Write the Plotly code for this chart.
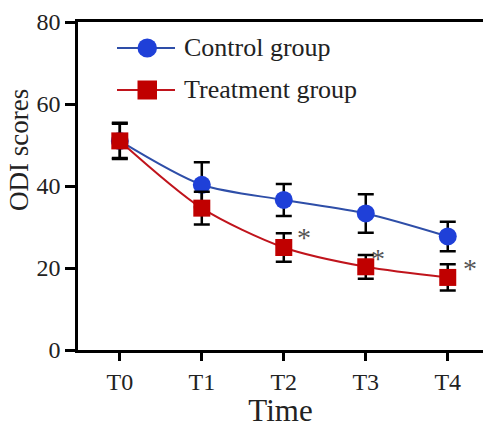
import plotly.graph_objects as go

time_labels = ["T0", "T1", "T2", "T3", "T4"]
control_mean = [51.0, 40.3, 36.6, 33.3, 27.7]
control_err = [4.4, 5.5, 3.9, 4.7, 3.6]
treat_mean = [51.0, 34.6, 25.0, 20.3, 17.7]
treat_err = [4.2, 4.0, 3.5, 2.9, 3.2]
sig_points = [2, 3, 4]  # indices with asterisk
sig_shift = [20, 12, 22]
series_names = ["Control group", "Treatment group"]

x = list(range(len(time_labels)))
FONT = "Liberation Serif, Times New Roman, serif"
BLUE_M, BLUE_L = "#1f40d8", "#2e4ea8"
RED_M, RED_L = "#c00000", "#c0141c"

L, R, T, B = 78, 0, 22, 78
W, H = 483, 428
PW, PH = W - L - R, H - T - B


def px(v):
    return (v - L) / PW


def py(v):
    return (H - B - v) / PH


fig = go.Figure()
fig.add_trace(go.Scatter(
    x=x, y=control_mean, name=series_names[0], mode="lines+markers",
    line=dict(color=BLUE_L, width=2, shape="spline", smoothing=0.8),
    marker=dict(symbol="circle", size=18, color=BLUE_M, line=dict(width=0)),
    error_y=dict(type="data", array=control_err, visible=True, color="black", thickness=2.5, width=8),
))
fig.add_trace(go.Scatter(
    x=x, y=treat_mean, name=series_names[1], mode="lines+markers",
    line=dict(color=RED_L, width=2, shape="spline", smoothing=0.8),
    marker=dict(symbol="square", size=17, color=RED_M, line=dict(width=0)),
    error_y=dict(type="data", array=treat_err, visible=True, color="black", thickness=2.5, width=8),
))

for i, s in zip(sig_points, sig_shift):
    fig.add_annotation(
        x=x[i], y=treat_mean[i] + treat_err[i], text="*", showarrow=False,
        xshift=s, yshift=-4, font=dict(family=FONT, size=28, color="#555555"),
    )

# custom legend
shapes = []
rows = [(48, BLUE_L, BLUE_M, "circle"), (90, RED_L, RED_M, "rect")]
for (ry, lc, mc, kind), name in zip(rows, series_names):
    shapes.append(dict(type="line", xref="paper", yref="paper",
                       x0=px(117), x1=px(175), y0=py(ry), y1=py(ry),
                       line=dict(color=lc, width=2)))
    shapes.append(dict(type=kind, xref="paper", yref="paper",
                       x0=px(137.5), x1=px(157), y0=py(ry - 9.5), y1=py(ry + 9.5),
                       fillcolor=mc, line=dict(width=0)))
    fig.add_annotation(xref="paper", yref="paper", x=px(182), y=py(ry),
                       xanchor="left", yanchor="middle", text=name, showarrow=False,
                       font=dict(family=FONT, size=26, color="#222222"))

# y-axis title
fig.add_annotation(xref="paper", yref="paper", x=px(19), y=py(150),
                   xanchor="center", yanchor="middle", text="ODI scores", textangle=-90,
                   showarrow=False, font=dict(family=FONT, size=27, color="#222222"))

fig.update_layout(
    width=W, height=H,
    margin=dict(l=L, r=R, t=T, b=B),
    paper_bgcolor="white", plot_bgcolor="white",
    font=dict(family=FONT, size=24, color="#222222"),
    showlegend=False,
    shapes=shapes,
    xaxis=dict(
        range=[-0.51, 4.43], tickvals=x, ticktext=time_labels,
        showline=True, linecolor="black", linewidth=2.5, mirror=True,
        ticks="outside", ticklen=8, tickwidth=2.5, tickcolor="black",
        showgrid=False, zeroline=False,
        title=dict(text="Time", font=dict(family=FONT, size=31, color="#222222"), standoff=2),
        tickfont=dict(family=FONT, size=24),
    ),
    yaxis=dict(
        range=[0, 80], tickvals=[0, 20, 40, 60, 80],
        showline=True, linecolor="black", linewidth=2.5,
        ticks="outside", ticklen=10, tickwidth=2.5, tickcolor="black",
        showgrid=False, zeroline=False,
        tickfont=dict(family=FONT, size=24),
    ),
)

fig.write_html("out.html")
